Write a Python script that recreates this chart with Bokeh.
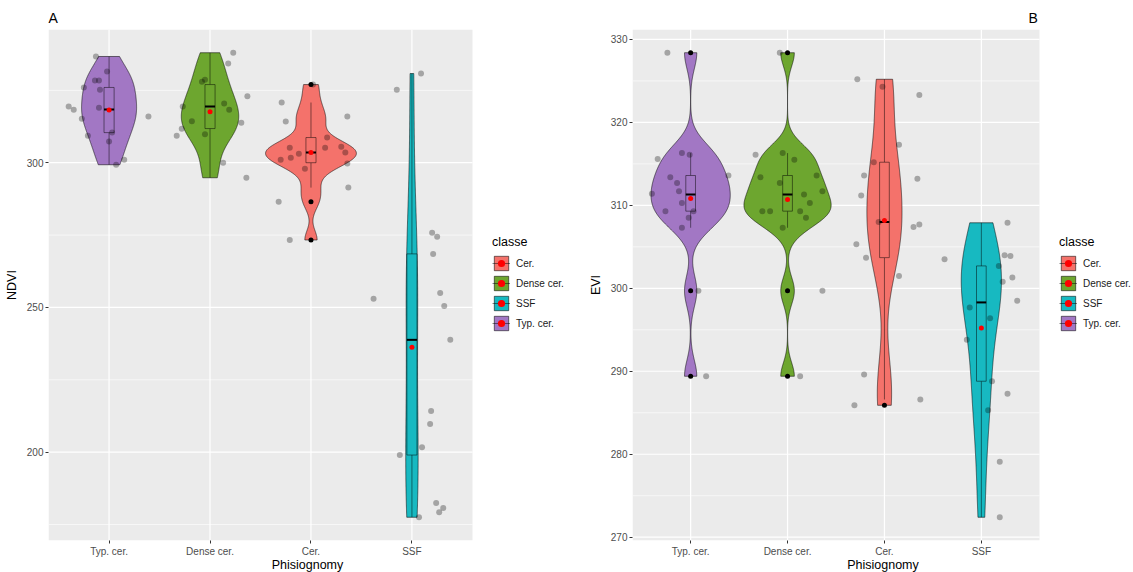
import numpy as np
from bokeh.plotting import figure
from bokeh.layouts import row
from bokeh.models import FixedTicker, Range1d, Legend, LegendItem
from bokeh.embed import file_html
from bokeh.resources import INLINE

# ---- categories and colours -------------------------------------------------
categories = ["Typ. cer.", "Dense cer.", "Cer.", "SSF"]
legend_order = ["Cer.", "Dense cer.", "SSF", "Typ. cer."]
fill = {"Cer.": "#F4726B", "Dense cer.": "#6DA62F", "SSF": "#17B9C1", "Typ. cer.": "#A277C4"}

# ---- NDVI observations (per physiognomy) and horizontal jitter --------------
ndvi_typ = [336.7, 331.5, 328.4, 328.4, 326.0, 325.2, 319.4, 318.3, 319.0, 316.0, 315.2, 310.4, 309.3, 307.3, 301.0, 299.3]
ndvi_typ_jitter = [-0.13, -0.02, -0.14, -0.10, -0.25, -0.09, -0.40, -0.35, -0.10, 0.39, -0.27, 0.03, -0.21, 0.00, 0.15, 0.07]
ndvi_dense = [338.0, 334.3, 328.0, 328.7, 323.0, 319.4, 320.5, 318.3, 314.3, 313.8, 311.7, 309.3, 309.8, 300.0, 294.8]
ndvi_dense_jitter = [0.23, 0.18, -0.08, -0.05, 0.37, -0.27, 0.14, 0.19, -0.18, 0.31, -0.28, -0.33, -0.05, 0.13, 0.36]
ndvi_cer = [327.0, 320.8, 316.0, 314.2, 308.7, 305.2, 305.2, 305.5, 303.1, 303.5, 301.0, 301.7, 299.7, 297.9, 291.4, 286.5, 273.3]
ndvi_cer_jitter = [0.02, -0.29, 0.36, -0.25, 0.16, -0.21, 0.14, 0.30, -0.12, 0.34, -0.30, -0.20, 0.36, -0.06, 0.37, -0.32, -0.21]
ndvi_ssf = [330.8, 325.2, 275.8, 274.4, 268.5, 255.0, 253.0, 250.5, 238.8, 214.2, 209.7, 201.7, 199.0, 182.4, 180.7, 179.2, 177.5]
ndvi_ssf_jitter = [0.09, -0.15, 0.20, 0.25, 0.21, 0.28, -0.38, 0.32, 0.38, 0.19, 0.18, 0.10, -0.12, 0.24, 0.31, 0.27, 0.07]

# NDVI box statistics, in category order
ndvi_whisker_lo = [299.3, 294.8, 291.4, 177.5]
ndvi_q1 = [310.4, 311.8, 300.0, 199.0]
ndvi_median = [318.4, 319.4, 303.5, 238.8]
ndvi_q3 = [326.0, 327.0, 308.7, 268.5]
ndvi_whisker_hi = [336.7, 338.0, 320.8, 330.8]
ndvi_ticks = [200, 250, 300]
ndvi_minor = [175, 225, 275, 325]

# ---- EVI observations ---------------------------------------------------------
evi_typ = [328.4, 316.3, 316.1, 315.6, 313.6, 313.4, 312.7, 311.7, 311.4, 310.3, 309.3, 309.3, 308.5, 307.3, 299.7, 289.4]
evi_typ_jitter = [-0.24, -0.09, -0.01, -0.34, 0.39, -0.21, -0.14, -0.12, -0.40, -0.09, -0.26, 0.03, -0.02, -0.09, 0.08, 0.16]
evi_dense = [328.4, 316.3, 316.1, 315.5, 313.6, 313.4, 312.7, 311.7, 311.3, 310.3, 309.3, 309.3, 309.3, 308.5, 307.3, 299.7, 289.4]
evi_dense_jitter = [-0.08, -0.05, -0.33, 0.07, 0.30, -0.28, -0.08, 0.36, 0.17, 0.23, -0.26, -0.18, 0.13, 0.19, -0.05, 0.36, 0.13]
evi_cer = [325.2, 324.3, 323.3, 317.3, 315.2, 313.6, 313.2, 311.2, 308.0, 307.4, 307.7, 305.3, 303.7, 301.5, 289.6, 286.6, 285.9]
evi_cer_jitter = [-0.28, -0.02, 0.36, 0.15, -0.11, -0.21, 0.34, -0.24, -0.06, 0.30, 0.36, -0.29, -0.19, 0.15, -0.21, 0.37, -0.31]
evi_ssf = [307.9, 304.0, 303.9, 303.5, 302.7, 301.3, 300.8, 298.5, 297.7, 296.4, 293.8, 288.8, 287.3, 285.3, 279.1, 272.4]
evi_ssf_jitter = [0.27, 0.24, 0.30, -0.38, 0.18, 0.32, 0.22, 0.37, -0.12, 0.09, -0.15, 0.11, 0.27, 0.07, 0.19, 0.19]

evi_whisker_lo = [307.3, 307.3, 286.6, 272.4]
evi_q1 = [309.3, 309.3, 303.7, 288.8]
evi_median = [311.3, 311.3, 308.0, 298.3]
evi_q3 = [313.6, 313.6, 315.2, 302.7]
evi_whisker_hi = [316.3, 316.3, 325.2, 307.9]
evi_ticks = [270, 280, 290, 300, 310, 320, 330]
evi_minor = [275, 285, 295, 305, 315, 325]

FONT = "Liberation Sans"
PANEL_BG = "#EBEBEB"
X_LO, X_HI = 0.4, 4.6          # discrete scale limits (0.6 expansion each side)
LEGEND_SPACE = 94              # px to the right of the panel, holding the legend


def bw_nrd0(v):
    v = np.asarray(v, float)
    sd = v.std(ddof=1)
    q75, q25 = np.percentile(v, [75, 25])
    s = min(sd, (q75 - q25) / 1.34)
    if s <= 0:
        s = sd
    return 0.9 * s * len(v) ** -0.2


def density(v, n=512):
    """Gaussian kernel density, trimmed to the data range."""
    v = np.asarray(v, float)
    bw = bw_nrd0(v)
    grid = np.linspace(v.min(), v.max(), n)
    z = (grid[:, None] - v[None, :]) / bw
    d = np.exp(-0.5 * z * z).sum(axis=1) / (len(v) * bw * np.sqrt(2 * np.pi))
    return grid, d


def violin_panel(title, ylabel, groups, jitters, stats, ticks, minor,
                 border_left, panel_w, title_offset):
    allv = np.concatenate([np.asarray(g, float) for g in groups])
    span = allv.max() - allv.min()
    y0, y1 = allv.min() - 0.05 * span, allv.max() + 0.05 * span
    px_per_unit = panel_w / (X_HI - X_LO)
    x_end = X_HI + LEGEND_SPACE / px_per_unit

    p = figure(frame_width=panel_w + LEGEND_SPACE, frame_height=511,
               x_range=Range1d(X_LO, x_end), y_range=Range1d(y0, y1),
               output_backend="svg", toolbar_location=None,
               min_border_left=border_left, min_border_right=0,
               min_border_top=29, min_border_bottom=30,
               background_fill_color="white", border_fill_color="white",
               outline_line_color=None, title=title)

    p.title.text_font = FONT
    p.title.text_font_size = "14px"
    p.title.text_font_style = "normal"
    p.title.text_color = "black"
    p.title.align = "left"
    p.title.offset = title_offset
    p.title.standoff = 8

    p.xgrid.grid_line_color = None
    p.ygrid.grid_line_color = None

    # grey panel and its white grid, limited to the discrete scale
    p.quad(left=[X_LO], right=[X_HI], bottom=[y0], top=[y1],
           fill_color=PANEL_BG, line_color=None)
    p.segment([X_LO] * len(minor), minor, [X_HI] * len(minor), minor,
              line_color="white", line_width=0.6)
    p.segment([X_LO] * len(ticks), ticks, [X_HI] * len(ticks), ticks,
              line_color="white", line_width=1.2)
    p.segment([1, 2, 3, 4], [y0] * 4, [1, 2, 3, 4], [y1] * 4,
              line_color="white", line_width=1.2)

    # axes
    p.xaxis.ticker = FixedTicker(ticks=[1, 2, 3, 4])
    p.xaxis.major_label_overrides = {i + 1: c for i, c in enumerate(categories)}
    p.yaxis.ticker = FixedTicker(ticks=ticks)
    for ax in (p.xaxis, p.yaxis):
        ax.axis_line_color = None
        ax.minor_tick_line_color = None
        ax.major_tick_line_color = "#333333"
        ax.major_tick_out = 3
        ax.major_tick_in = 0
        ax.major_label_text_font = FONT
        ax.major_label_text_font_size = "10px"
        ax.major_label_text_color = "#4D4D4D"
        ax.major_label_standoff = 2
        ax.axis_label_text_font = FONT
        ax.axis_label_text_font_size = "12.5px"
        ax.axis_label_text_font_style = "normal"
        ax.axis_label_text_color = "black"
    p.xaxis.axis_label = "Phisiognomy"
    p.xaxis.axis_label_standoff = -2
    p.yaxis.axis_label = ylabel
    p.yaxis.axis_label_standoff = 5

    lo_s, q1_s, med_s, q3_s, hi_s = stats
    dens = [density(g) for g in groups]
    dmax = max(d.max() for _, d in dens)

    violin_r, whisker_r, mean_r = {}, {}, {}
    # violins (area-scaled, max width 0.9)
    for i, cat in enumerate(categories):
        x0 = i + 1
        grid, d = dens[i]
        half = 0.45 * d / dmax
        xs = np.concatenate([x0 - half, (x0 + half)[::-1]])
        ys = np.concatenate([grid, grid[::-1]])
        violin_r[cat] = p.patch(xs, ys, fill_color=fill[cat], line_color="black",
                                line_width=0.9, line_alpha=0.6)
    # boxplots
    for i, cat in enumerate(categories):
        x0 = i + 1
        whisker_r[cat] = p.segment([x0, x0], [q3_s[i], q1_s[i]], [x0, x0], [hi_s[i], lo_s[i]],
                                   line_color="black", line_alpha=0.6, line_width=0.8)
        p.quad(left=[x0 - 0.05], right=[x0 + 0.05], bottom=[q1_s[i]], top=[q3_s[i]],
               fill_color=fill[cat], line_color="black", line_alpha=0.6, line_width=0.8)
        p.segment([x0 - 0.05], [med_s[i]], [x0 + 0.05], [med_s[i]],
                  line_color="black", line_width=2)
        out = [v for v in groups[i] if v < lo_s[i] - 1e-6 or v > hi_s[i] + 1e-6]
        if out:
            p.scatter([x0] * len(out), out, size=5, fill_color="black", line_color=None)
    # jittered observations
    for i, cat in enumerate(categories):
        x0 = i + 1
        xs = [x0 + j for j in jitters[i]]
        p.scatter(xs, groups[i], size=6, fill_color="black", fill_alpha=0.3, line_color=None)
    # group means
    for i, cat in enumerate(categories):
        x0 = i + 1
        mean_r[cat] = p.scatter([x0], [float(np.mean(groups[i]))], size=5,
                                fill_color="red", line_color=None)

    items = [LegendItem(label=c, renderers=[violin_r[c], whisker_r[c], mean_r[c]])
             for c in legend_order]
    legend = Legend(items=items, title="classe", location=(panel_w + 20, 208),
                    margin=0, padding=0, spacing=2,
                    glyph_width=18, glyph_height=18, label_standoff=6,
                    label_text_font=FONT, label_text_font_size="10px",
                    label_text_color="#1A1A1A",
                    title_text_font=FONT, title_text_font_size="12.5px",
                    title_text_font_style="normal", title_text_color="black",
                    title_standoff=5,
                    border_line_alpha=0, background_fill_alpha=0)
    p.add_layout(legend)
    return p


pa = violin_panel("A", "NDVI",
                  [ndvi_typ, ndvi_dense, ndvi_cer, ndvi_ssf],
                  [ndvi_typ_jitter, ndvi_dense_jitter, ndvi_cer_jitter, ndvi_ssf_jitter],
                  (ndvi_whisker_lo, ndvi_q1, ndvi_median, ndvi_q3, ndvi_whisker_hi),
                  ndvi_ticks, ndvi_minor, 48, 424, 0)
pb = violin_panel("B", "EVI",
                  [evi_typ, evi_dense, evi_cer, evi_ssf],
                  [evi_typ_jitter, evi_dense_jitter, evi_cer_jitter, evi_ssf_jitter],
                  (evi_whisker_lo, evi_q1, evi_median, evi_q3, evi_whisker_hi),
                  evi_ticks, evi_minor, 66, 407, 396)

layout = row(pa, pb)
open("out.html", "w").write(file_html(layout, INLINE))
